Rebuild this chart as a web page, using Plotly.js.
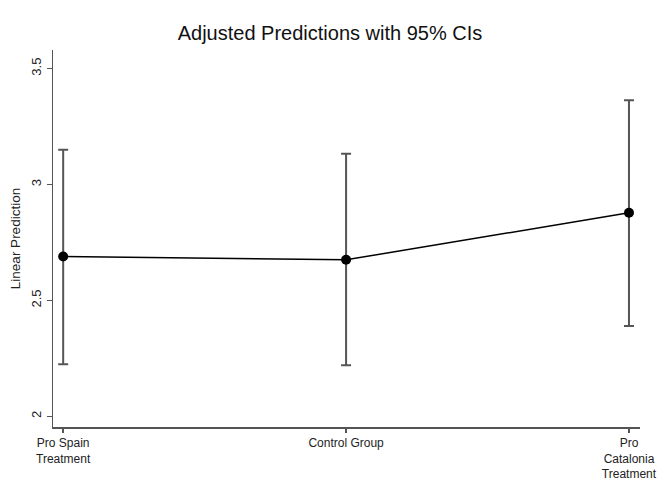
<!DOCTYPE html>
<html>
<head>
<meta charset="utf-8">
<script src="https://cdn.plot.ly/plotly-3.0.1.min.js"></script>
<style>html,body{margin:0;padding:0;background:#fff;}#chart{width:660px;height:481px;}</style>
</head>
<body>
<div id="chart"></div>
<script>
var categories = ["Pro Spain<br>Treatment", "Control Group", "Pro<br>Catalonia<br>Treatment"];
var xPos = [0, 1, 2];
var prediction = [2.689, 2.675, 2.878];
var ciUpper = [3.15, 3.132, 3.363];
var ciLower = [2.225, 2.22, 2.39];
var yTicks = [2, 2.5, 3, 3.5];
var yTickLabels = ["2", "2.5", "3", "3.5"];

var trace = {
  x: xPos,
  y: prediction,
  type: "scatter",
  mode: "lines+markers",
  line: {color: "#000", width: 1.5},
  marker: {color: "#000", size: 10},
  error_y: {
    type: "data",
    symmetric: false,
    array: prediction.map(function(v, i){ return ciUpper[i] - v; }),
    arrayminus: prediction.map(function(v, i){ return v - ciLower[i]; }),
    color: "#555",
    thickness: 2,
    width: 5
  },
  hoverinfo: "skip"
};

var layout = {
  width: 660, height: 481,
  margin: {l: 53, r: 20, t: 50, b: 54},
  paper_bgcolor: "#fff", plot_bgcolor: "#fff",
  font: {family: "Liberation Sans, Arial, sans-serif", color: "#222", size: 12},
  showlegend: false,
  title: {text: "Adjusted Predictions with 95% CIs", font: {size: 20, color: "#111"}, x: 0.5, xanchor: "center", y: 0.932, yanchor: "middle"},
  xaxis: {
    range: [-0.036, 2.039],
    tickvals: xPos, ticktext: categories,
    showgrid: false, zeroline: false,
    showline: true, linecolor: "#555", linewidth: 1.5,
    ticks: "outside", ticklen: 4, tickcolor: "#555", tickwidth: 1.5,
    tickfont: {size: 12, color: "#222"}
  },
  yaxis: {
    range: [1.954, 3.58],
    tickvals: yTicks, ticktext: yTickLabels,
    tickangle: -90,
    showgrid: false, zeroline: false,
    showline: true, linecolor: "#555", linewidth: 1.5,
    ticks: "outside", ticklen: 5, tickcolor: "#555", tickwidth: 1.5,
    tickfont: {size: 13, color: "#222"},
    title: {text: "Linear Prediction", font: {size: 13.5, color: "#222"}, standoff: 5}
  }
};

Plotly.newPlot("chart", [trace], layout, {displayModeBar: false, staticPlot: true});
</script>
</body>
</html>
